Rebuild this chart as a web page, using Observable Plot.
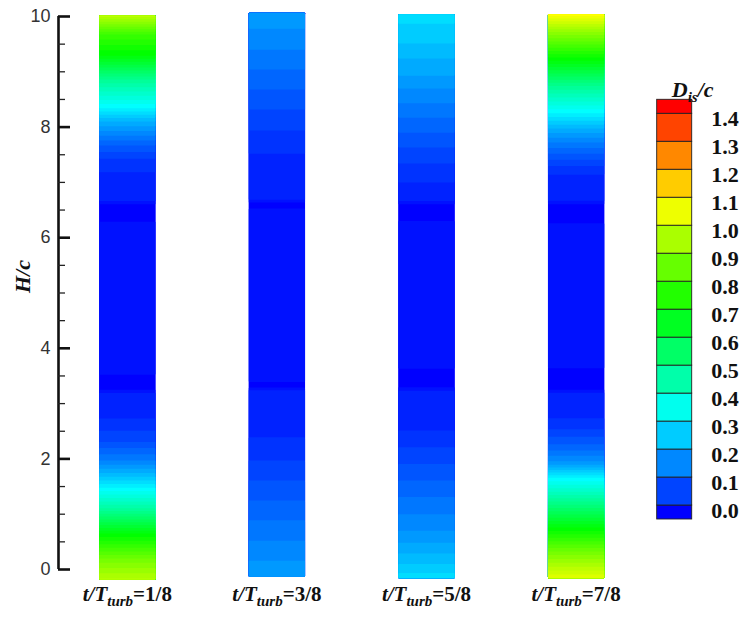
<!DOCTYPE html>
<html><head><meta charset="utf-8">
<script src="https://cdn.jsdelivr.net/npm/d3@7"></script>
<script src="https://cdn.jsdelivr.net/npm/@observablehq/plot@0.6"></script>
<style>
html,body{margin:0;padding:0;background:#fff;}
#wrap{position:relative;width:743px;height:617px;overflow:hidden;background:#fff;}
</style></head><body><div id="wrap"></div>
<script>
// ---- data ----
const stripTimes = [1/8, 3/8, 5/8, 7/8];
const stripFractions = ["1/8", "3/8", "5/8", "7/8"];

// H/c samples and D_is/c values read along each strip
const h1 = [-0.18, 0.16, 0.65, 1.12, 1.48, 1.73, 1.97, 2.33, 2.82, 3.20, 3.27, 3.48, 3.56, 5.0, 6.25, 6.33, 6.58, 6.66, 7.07, 7.40, 7.67, 7.88, 8.12, 8.34, 8.84, 9.29, 9.68, 10.02];
const v1 = [0.98, 0.89, 0.70, 0.47, 0.325, 0.23, 0.15, 0.07, 0.015, 0.0, -0.035, -0.035, -0.015, -0.012, -0.015, -0.035, -0.035, 0.0, 0.015, 0.044, 0.10, 0.16, 0.23, 0.325, 0.49, 0.70, 0.80, 0.99];

const h2 = [-0.13, 0.16, 0.52, 0.89, 1.25, 1.61, 1.97, 2.39, 3.0, 3.25, 3.31, 3.36, 3.42, 5.0, 6.50, 6.56, 6.62, 6.68, 7.0, 7.52, 7.94, 8.32, 8.68, 9.04, 9.40, 9.78, 10.07];
const v2 = [0.19, 0.175, 0.15, 0.125, 0.10, 0.075, 0.05, 0.025, 0.008, 0.0, -0.035, -0.035, -0.015, -0.012, -0.015, -0.035, -0.035, 0.0, 0.01, 0.025, 0.05, 0.075, 0.10, 0.125, 0.15, 0.175, 0.195];

const h3 = [-0.16, 0.1, 0.4, 0.7, 1.0, 1.31, 1.61, 1.91, 2.21, 2.51, 3.0, 3.24, 3.32, 3.58, 3.68, 5.0, 6.25, 6.35, 6.58, 6.66, 7.0, 7.34, 7.63, 7.90, 8.17, 8.43, 8.70, 8.93, 9.24, 9.51, 9.87, 10.04];
const v3 = [0.29, 0.25, 0.21, 0.175, 0.15, 0.125, 0.10, 0.075, 0.05, 0.025, 0.008, 0.0, -0.035, -0.035, -0.015, -0.012, -0.015, -0.035, -0.035, 0.0, 0.025, 0.05, 0.075, 0.10, 0.125, 0.15, 0.175, 0.2, 0.225, 0.25, 0.275, 0.30];

const h4 = [-0.16, 0.29, 0.76, 1.37, 1.66, 1.92, 2.21, 2.57, 2.82, 3.20, 3.27, 3.60, 3.68, 5.0, 6.22, 6.30, 6.58, 6.66, 7.07, 7.27, 7.52, 7.76, 7.99, 8.25, 8.72, 9.20, 9.69, 10.04];
const v4 = [1.05, 0.89, 0.70, 0.44, 0.325, 0.185, 0.11, 0.044, 0.015, 0.0, -0.035, -0.035, -0.015, -0.012, -0.015, -0.035, -0.035, 0.0, 0.015, 0.044, 0.10, 0.16, 0.23, 0.325, 0.49, 0.70, 0.91, 1.09];

const legendLevels = [0.0, 0.1, 0.2, 0.3, 0.4, 0.5, 0.6, 0.7, 0.8, 0.9, 1.0, 1.1, 1.2, 1.3, 1.4];
const legendLabels = ["0.0","0.1","0.2","0.3","0.4","0.5","0.6","0.7","0.8","0.9","1.0","1.1","1.2","1.3","1.4"];
const yMajorTicks = [0, 2, 4, 6, 8, 10];
const yTickLabels = ["0", "2", "4", "6", "8", "10"];
const yMinorTicks = [0.5, 1, 1.5, 2.5, 3, 3.5, 4.5, 5, 5.5, 6.5, 7, 7.5, 8.5, 9, 9.5];

// ---- colour scale (Tecplot-like small rainbow) ----
const colorStops = [-0.05, 0.325, 0.7, 1.075, 1.45];
const colorRange = ["#0000ff", "#00ffff", "#00ff00", "#ffff00", "#ff0000"];
const colorScale = {type: "linear", domain: colorStops, range: colorRange, interpolate: "rgb", clamp: true};
const contourLevels = d3.range(-3, 59).map(i => i * 0.025);

// ---- layout constants ----
const xMin = 0.01;
const half = 0.047;
const serif = "Liberation Serif, Times New Roman, serif";

const profiles = [[h1, v1], [h2, v2], [h3, v3], [h4, v4]];
const stripMarks = profiles.map(([hs, vs], i) => {
  const t = stripTimes[i];
  const pts = hs.flatMap((h, j) => [{x: t - half, h, v: vs[j]}, {x: t + half, h, v: vs[j]}]);
  return Plot.contour(pts, {
    x: "x", y: "h", fill: "v",
    interpolate: "barycentric",
    thresholds: contourLevels,
    x1: t - half, x2: t + half, y1: hs[0], y2: hs[hs.length - 1],
    pixelSize: 1
  });
});

const main = Plot.plot({
  width: 743, height: 617,
  marginLeft: 58, marginRight: 92.6, marginTop: 16, marginBottom: 48,
  style: {background: "#fff", fontFamily: "Liberation Sans, Arial, sans-serif", overflow: "visible"},
  x: {domain: [xMin, 1], axis: null},
  y: {domain: [0, 10], label: null},
  color: colorScale,
  marks: [
    ...stripMarks,
    Plot.ruleX([xMin], {y1: 0, y2: 10, strokeWidth: 2.6, stroke: "#111"}),
    Plot.axisY(yMajorTicks, {anchor: "left", tickSize: 12, dx: 12, fill: "none", stroke: "#111", strokeWidth: 2.6, label: null}),
    Plot.axisY(yMinorTicks, {anchor: "left", tickSize: 7, dx: 7, fill: "none", stroke: "#222", strokeWidth: 1.3, label: null}),
    Plot.axisY(yMajorTicks, {anchor: "left", tickSize: 0, tickPadding: 8, stroke: "none", fill: "#333", fontSize: 18, label: null,
      tickFormat: d => yTickLabels[yMajorTicks.indexOf(d)]}),
    Plot.text(["H/c"], {frameAnchor: "left", dx: -36, rotate: -90, fontFamily: serif, fontStyle: "italic", fontWeight: "bold", fontSize: 22, fill: "#111"}),
    Plot.text(stripTimes, {x: d => d, frameAnchor: "bottom", dy: 31, text: (d, i) => "t/Tturb=" + stripFractions[i], fontFamily: serif, fontWeight: "bold", fontSize: 21, fill: "#111"})
  ]
});

const NS = "http://www.w3.org/2000/svg";
function addSpan(el, txt, attrs) {
  const ts = document.createElementNS(NS, "tspan");
  for (const k in attrs) ts.setAttribute(k, attrs[k]);
  ts.textContent = txt;
  el.appendChild(ts);
}
main.querySelectorAll("text").forEach(el => {
  const s = el.textContent;
  if (s.startsWith("t/Tturb=")) {
    const frac = s.slice(8);
    el.textContent = "";
    addSpan(el, "t/T", {"font-style": "italic"});
    addSpan(el, "turb", {"font-style": "italic", "font-size": "15", "dy": "5"});
    addSpan(el, "=" + frac, {"dy": "-5"});
  }
});

// ---- legend ----
const bands = d3.range(legendLevels.length + 1).map(i => ({
  lo: i === 0 ? colorStops[0] : legendLevels[i - 1],
  hi: i === legendLevels.length ? colorStops[colorStops.length - 1] : legendLevels[i],
  rep: colorStops[0] + 0.1 * i
}));

const legend = Plot.plot({
  width: 103, height: 470,
  marginLeft: 16.7, marginRight: 51.3, marginTop: 39.3, marginBottom: 11,
  style: {position: "absolute", left: "640px", top: "60px", background: "transparent", overflow: "visible"},
  x: {domain: [0, 1], axis: null},
  y: {domain: [colorStops[0], colorStops[colorStops.length - 1]], axis: null},
  color: colorScale,
  marks: [
    Plot.rect(bands, {x1: 0, x2: 1, y1: "lo", y2: "hi", fill: "rep", stroke: "#222", strokeWidth: 0.9}),
    Plot.text(legendLevels, {x: 1, y: d => d, text: (d, i) => legendLabels[i], dx: 19, dy: 5, textAnchor: "start", fontFamily: serif, fontWeight: "bold", fontSize: 22, fill: "#111"}),
    Plot.text(["D/c"], {x: 0.5, frameAnchor: "top", dx: 18, dy: -18, fontFamily: serif, fontWeight: "bold", fontStyle: "italic", fontSize: 22, fill: "#111"})
  ]
});
legend.querySelectorAll("text").forEach(el => {
  if (el.textContent === "D/c") {
    el.textContent = "";
    addSpan(el, "D", {});
    addSpan(el, "is", {"font-size": "15", "dy": "5"});
    addSpan(el, "/c", {"dy": "-5"});
  }
});

const wrap = document.getElementById("wrap");
wrap.appendChild(main);
wrap.appendChild(legend);
</script></body></html>
